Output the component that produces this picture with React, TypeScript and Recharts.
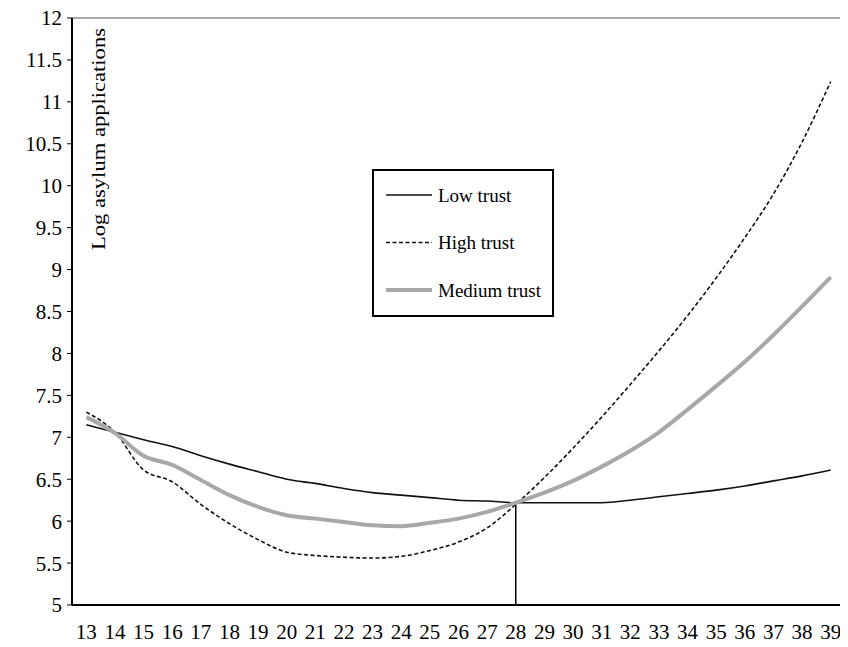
import { LineChart, Line, XAxis, YAxis, ReferenceLine, Legend, Label } from "recharts";

const ages = [13, 14, 15, 16, 17, 18, 19, 20, 21, 22, 23, 24, 25, 26, 27, 28, 29, 30, 31, 32, 33, 34, 35, 36, 37, 38, 39];
const lowTrust = [7.15, 7.06, 6.97, 6.89, 6.78, 6.68, 6.59, 6.5, 6.45, 6.39, 6.34, 6.31, 6.28, 6.25, 6.24, 6.22, 6.22, 6.22, 6.22, 6.25, 6.29, 6.33, 6.37, 6.42, 6.48, 6.54, 6.61];
const highTrust = [7.3, 7.06, 6.61, 6.47, 6.2, 5.97, 5.78, 5.63, 5.59, 5.57, 5.56, 5.58, 5.65, 5.75, 5.92, 6.2, 6.52, 6.87, 7.24, 7.63, 8.03, 8.45, 8.9, 9.38, 9.9, 10.52, 11.24];
const mediumTrust = [7.24, 7.05, 6.78, 6.67, 6.49, 6.31, 6.17, 6.07, 6.03, 5.99, 5.95, 5.94, 5.98, 6.03, 6.11, 6.22, 6.34, 6.48, 6.65, 6.84, 7.06, 7.33, 7.61, 7.9, 8.22, 8.56, 8.91];
const yTicks = [5, 5.5, 6, 6.5, 7, 7.5, 8, 8.5, 9, 9.5, 10, 10.5, 11, 11.5, 12];

const data = ages.map((age, i) => ({
  age,
  low: lowTrust[i],
  high: highTrust[i],
  medium: mediumTrust[i],
}));

const series = [
  { key: "low", name: "Low trust", color: "#111", width: 1.6, dash: undefined },
  { key: "high", name: "High trust", color: "#111", width: 1.6, dash: "4 2.5" },
  { key: "medium", name: "Medium trust", color: "#a8a8a8", width: 4, dash: undefined },
];

const font = '"Liberation Serif", "Times New Roman", serif';

function TrustLegend() {
  return (
    <div
      style={{
        width: 182,
        height: 148,
        boxSizing: "border-box",
        border: "2px solid #000",
        background: "#fff",
      }}
    >
      <svg width={178} height={144} style={{ display: "block" }}>
        {series.map((s, i) => {
          const cy = 24 + i * 47.5;
          return (
            <g key={s.key}>
              <line x1={12} x2={58} y1={cy} y2={cy} stroke={s.color} strokeWidth={s.width} strokeDasharray={s.dash} />
              <text x={64} y={cy} dominantBaseline="central" fontSize={19} fontFamily={font} fill="#000">
                {s.name}
              </text>
            </g>
          );
        })}
      </svg>
    </div>
  );
}

function AxisTitle(props: any) {
  const vb = props.viewBox;
  const x = vb.x + vb.width + 26;
  const y = vb.y + 121;
  return (
    <text
      x={x}
      y={y}
      transform={`rotate(-90, ${x}, ${y})`}
      textAnchor="middle"
      dominantBaseline="central"
      fontSize={19}
      fontFamily={font}
      fill="#000"
      textLength={222}
      lengthAdjust="spacingAndGlyphs"
    >
      Log asylum applications
    </text>
  );
}

export default function App() {
  return (
    <div style={{ margin: -8 }}>
      <LineChart
        width={848}
        height={647}
        data={data}
        margin={{ top: 18, right: 3, left: 0, bottom: 0 }}
        style={{ fontFamily: font }}
      >
        <XAxis
          dataKey="age"
          type="number"
          domain={[12.5, 39.5]}
          ticks={ages}
          interval={0}
          tickLine={false}
          tickSize={0}
          tickMargin={19}
          height={42}
          axisLine={{ stroke: "#000", strokeWidth: 2 }}
          tick={{ fill: "#000", fontSize: 21 }}
        />
        <YAxis
          domain={[5, 12]}
          ticks={yTicks}
          interval={0}
          width={72}
          tickSize={5}
          tickMargin={5}
          tickLine={{ stroke: "#000" }}
          axisLine={{ stroke: "#000", strokeWidth: 2 }}
          tick={{ fill: "#000", fontSize: 21 }}
        >
          <Label content={AxisTitle} />
        </YAxis>
        <ReferenceLine y={12} stroke="#8c8c8c" strokeWidth={1.5} />
        <ReferenceLine x={39.5} stroke="#8c8c8c" strokeWidth={1.5} />
        <ReferenceLine
          segment={[
            { x: 28, y: 5 },
            { x: 28, y: 6.22 },
          ]}
          stroke="#000"
          strokeWidth={1.5}
        />
        {series.map((s) => (
          <Line
            key={s.key}
            type="monotone"
            dataKey={s.key}
            name={s.name}
            stroke={s.color}
            strokeWidth={s.width}
            strokeDasharray={s.dash}
            dot={false}
            activeDot={false}
            isAnimationActive={false}
          />
        ))}
        <Legend
          layout="horizontal"
          verticalAlign="middle"
          align="center"
          content={TrustLegend}
          wrapperStyle={{ left: 372, top: 169, width: 182, height: 148 }}
        />
      </LineChart>
    </div>
  );
}
